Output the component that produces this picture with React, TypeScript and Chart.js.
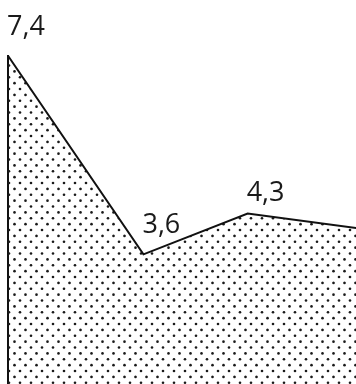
import React, { useEffect, useRef } from "react";
import { Chart, registerables } from "chart.js";

Chart.register(...registerables);

// Data
const xPositions = [0, 13, 23, 35];
const values = [7.36, 3.56, 4.34, 4.02];

// Style
const LABEL_LIFT = [21, 21, 13];
const W = 356;
const H = 384;

function makePattern(): CanvasPattern | string {
  const tw = 44;
  const th = 47;
  const c = document.createElement("canvas");
  c.width = tw;
  c.height = th;
  const g = c.getContext("2d");
  if (!g) return "rgba(0,0,0,0.2)";
  g.fillStyle = "#1a1a1a";
  const dots: [number, number][] = [];
  for (let j = 0; j < 4; j++) {
    for (let k = 0; k < 4; k++) {
      dots.push([9 + 11 * k, 6.75 + 11.75 * j]);
      dots.push([3.5 + 11 * k, 0.875 + 11.75 * j]);
    }
  }
  for (const [x, y] of dots) {
    for (const dx of [-tw, 0, tw]) {
      for (const dy of [-th, 0, th]) {
        g.beginPath();
        g.arc(x + dx, y + dy, 1.3, 0, Math.PI * 2);
        g.fill();
      }
    }
  }
  const p = g.createPattern(c, "repeat");
  return p || "rgba(0,0,0,0.2)";
}

const labelPlugin = {
  id: "valueLabels",
  afterDatasetsDraw(chart: any) {
    const ctx = chart.ctx;
    const meta = chart.getDatasetMeta(0);
    const area = chart.chartArea;
    ctx.save();
    ctx.font = '27px "Open Sans"';
    ctx.fillStyle = "#1a1a1a";
    ctx.textAlign = "left";
    ctx.textBaseline = "alphabetic";
    meta.data.forEach((pt: any, i: number) => {
      if (pt.x > area.right - 2) return;
      const txt = values[i].toFixed(1).replace(".", ",");
      ctx.fillText(txt, pt.x - 1, pt.y - (LABEL_LIFT[i] ?? 20));
    });
    ctx.restore();
  },
};

export default function App() {
  const ref = useRef<HTMLCanvasElement | null>(null);
  useEffect(() => {
    if (!ref.current) return;
    const chart = new Chart(ref.current, {
      type: "line",
      data: {
        datasets: [
          {
            data: xPositions.map((x, i) => ({ x, y: values[i] })),
            borderColor: "#111",
            borderWidth: 2,
            backgroundColor: makePattern() as any,
            fill: "start",
            pointRadius: 0,
            tension: 0,
            clip: false as any,
          },
        ],
      },
      options: {
        animation: false,
        responsive: false,
        devicePixelRatio: 1,
        layout: { padding: { left: 8, top: 55.7, right: 0, bottom: 0 } },
        plugins: { legend: { display: false }, tooltip: { enabled: false } },
        scales: {
          x: { type: "linear", min: 0, max: 33.4, display: false },
          y: {
            min: 1.08,
            max: 7.36,
            display: true,
            ticks: { display: false },
            grid: { display: false, drawTicks: false },
            border: { display: true, color: "#111", width: 2 },
          },
        },
      },
      plugins: [labelPlugin],
    });
    return () => chart.destroy();
  }, []);
  return (
    <div style={{ position: "fixed", left: 0, top: 0, width: W, height: H, background: "#fff" }}>
      <canvas ref={ref} width={W} height={H} style={{ display: "block", width: W, height: H }} />
    </div>
  );
}
